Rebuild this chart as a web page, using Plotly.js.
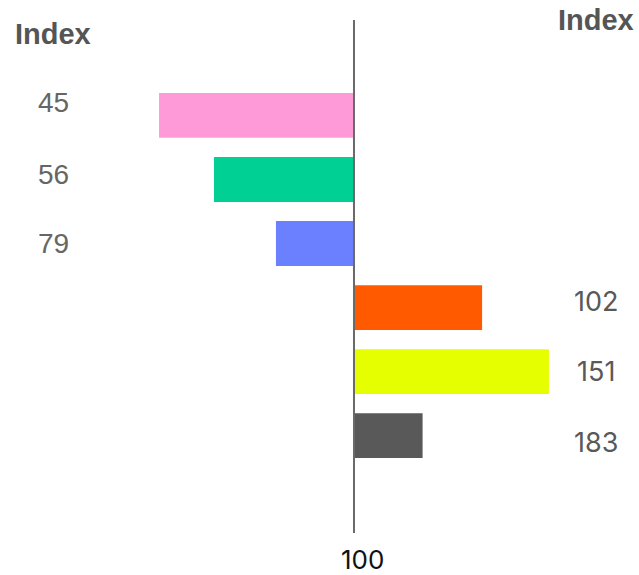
<!DOCTYPE html>
<html>
<head>
<meta charset="utf-8">
<script src="https://cdn.plot.ly/plotly-3.0.1.min.js"></script>
<style>
  html, body { margin: 0; padding: 0; background: #ffffff; }
  #chart { width: 639px; height: 575px; }
</style>
</head>
<body>
<div id="chart"></div>
<script>
// Groups, top to bottom
const groups = ['G1', 'G2', 'G3', 'G4', 'G5', 'G6'];
// Where each bar ends on the index scale (bars grow from the base of 100)
const barValues = [44.3, 60.0, 77.7, 136.6, 155.7, 119.6];
const barColors = ['#ff9ad8', '#00d093', '#6b80ff', '#ff5a00', '#e5ff00', '#595959'];
// Index figures printed beside the bars
const leftIndex = ['45', '56', '79'];
const rightIndex = ['102', '151', '183'];
const baseValue = 100;
const baseLabel = '100';
const columnTitle = 'Index';

const trace = {
  type: 'bar',
  orientation: 'h',
  y: groups,
  base: baseValue,
  x: barValues.map(v => v - baseValue),
  width: 0.7,
  marker: { color: barColors, line: { width: 0 } },
  hoverinfo: 'skip'
};

const numFontL = { family: 'Liberation Sans, Arial, sans-serif', size: 28, color: '#666666' };
const numFontR = { family: 'Inter, Roboto, sans-serif', size: 27, color: '#595959' };
const titleFont = { family: 'Liberation Sans, Arial, sans-serif', size: 29, color: '#555555', weight: 'bold' };

const annotations = [];
const leftShift = [13, 5, 0];
const rightShift = [6, 0, -7];
leftIndex.forEach((t, i) => annotations.push({
  text: t, xref: 'paper', x: 53 / 639, yref: 'y', y: groups[i],
  yshift: leftShift[i], showarrow: false, xanchor: 'center', yanchor: 'middle', font: numFontL
}));
rightIndex.forEach((t, i) => annotations.push({
  text: t, xref: 'paper', x: 596 / 639, yref: 'y', y: groups[i + 3],
  yshift: rightShift[i], showarrow: false, xanchor: 'center', yanchor: 'middle', font: numFontR
}));
annotations.push({
  text: '<b>' + columnTitle + '</b>', xref: 'paper', x: 53 / 639, yref: 'paper', y: 1,
  yshift: -14, showarrow: false, xanchor: 'center', yanchor: 'middle', font: titleFont
});
annotations.push({
  text: '<b>' + columnTitle + '</b>', xref: 'paper', x: 596 / 639, yref: 'paper', y: 1,
  yshift: 0, showarrow: false, xanchor: 'center', yanchor: 'middle', font: titleFont
});
// base value printed under the centre line
annotations.push({
  text: baseLabel, xref: 'x', x: baseValue, xshift: 9, yref: 'paper', y: 0,
  yshift: -26, showarrow: false, xanchor: 'center', yanchor: 'middle',
  font: { family: 'Inter, Roboto, sans-serif', size: 26, color: '#111111' }
});

const layout = {
  width: 639,
  height: 575,
  margin: { l: 0, r: 0, t: 20, b: 42, pad: 0 },
  paper_bgcolor: '#ffffff',
  plot_bgcolor: '#ffffff',
  showlegend: false,
  bargap: 0.3,
  xaxis: {
    range: [-1.14, 181.43],
    showgrid: false, zeroline: false, showline: false,
    showticklabels: false, ticks: '', fixedrange: true
  },
  yaxis: {
    type: 'category',
    categoryorder: 'array',
    categoryarray: groups,
    range: [6.52, -1.49],
    showgrid: false, zeroline: false, showline: false,
    showticklabels: false, ticks: '', fixedrange: true
  },
  shapes: [{
    type: 'line', layer: 'above',
    xref: 'x', x0: baseValue, x1: baseValue,
    yref: 'paper', y0: 0, y1: 1,
    line: { color: '#6a6a6a', width: 2 }
  }],
  annotations: annotations
};

Plotly.newPlot('chart', [trace], layout, { displayModeBar: false, staticPlot: true });
</script>
</body>
</html>
